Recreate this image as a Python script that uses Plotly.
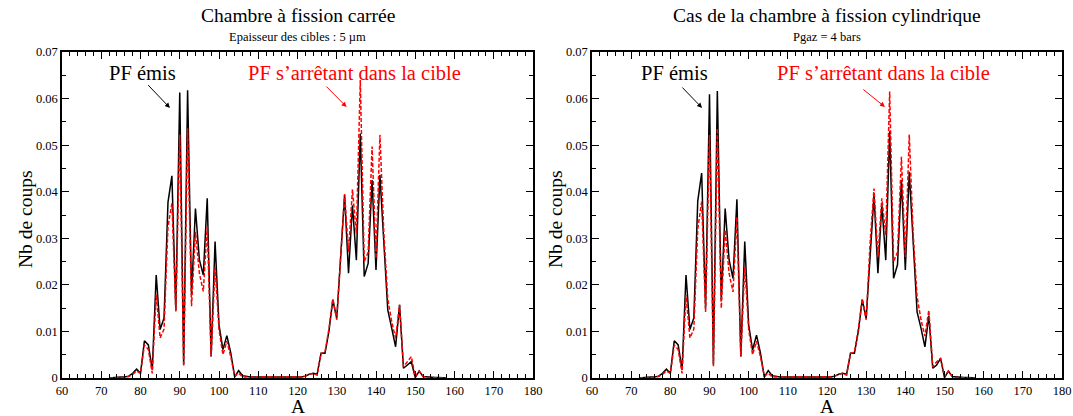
'''
    Two panels: fission fragment mass distributions (emitted vs stopped in target).
'''

import plotly.graph_objects as go

# Mass number A (one point per integer value)
a_values = list(range(72, 159))

# Left panel : chambre a fission carree
emis_carree = [
    0, 0.0001, 0.0001, 0.0002, 0.0002,            # 72-76
    0.0004, 0.0010, 0.0019, 0.0010, 0.0080,       # 77-81
    0.0071, 0.0018, 0.0221, 0.0104, 0.0129,       # 82-86
    0.0377, 0.0434, 0.0145, 0.0613, 0.0029,       # 87-91
    0.0618, 0.0179, 0.0364, 0.0254, 0.0221,       # 92-96
    0.0386, 0.0046, 0.0293, 0.0114, 0.0061,       # 97-101
    0.0091, 0.0054, 0.0002, 0.0016, 0.0005,       # 102-106
    0.0003, 0.0002, 0.0002, 0.0002, 0.0002,       # 107-111
    0.0002, 0.0002, 0.0002, 0.0002, 0.0002,       # 112-116
    0.0002, 0.0002, 0.0002, 0.0002, 0.0002,       # 117-121
    0.0004, 0.0008, 0.0010, 0.0008, 0.0053,       # 122-126
    0.0053, 0.0100, 0.0168, 0.0128, 0.0257,       # 127-131
    0.0393, 0.0225, 0.0371, 0.0253, 0.0525,       # 132-136
    0.0218, 0.0246, 0.0425, 0.0232, 0.0436,       # 137-141
    0.0286, 0.0146, 0.0107, 0.0067, 0.0157,       # 142-146
    0.0021, 0.0028, 0.0035, 0.0001, 0.0015,       # 147-151
    0.0003, 0.0002, 0.0001, 0.0001, 0.0001,       # 152-156
    0, 0,                                         # 157-158
]
arret_carree = [
    0, 0.0001, 0.0001, 0.0001, 0.0002,
    0.0003, 0.0008, 0.0015, 0.0010, 0.0071,
    0.0061, 0.0010, 0.0180, 0.0086, 0.0105,
    0.0325, 0.0375, 0.0143, 0.0523, 0.0025,
    0.0536, 0.0154, 0.0314, 0.0225, 0.0186,
    0.0325, 0.0046, 0.0239, 0.0104, 0.0050,
    0.0079, 0.0046, 0.0004, 0.0010, 0.0002,
    0.0002, 0.0002, 0.0002, 0.0002, 0.0002,
    0.0002, 0.0002, 0.0002, 0.0002, 0.0002,
    0.0002, 0.0002, 0.0002, 0.0002, 0.0002,
    0.0004, 0.0008, 0.0010, 0.0006, 0.0053,
    0.0055, 0.0105, 0.0170, 0.0125, 0.0270,
    0.0395, 0.0270, 0.0405, 0.0310, 0.0640,
    0.0250, 0.0270, 0.0497, 0.0257, 0.0522,
    0.0310, 0.0170, 0.0121, 0.0085, 0.0157,
    0.0024, 0.0035, 0.0046, 0.0003, 0.0015,
    0.0003, 0.0001, 0.0001, 0.0001, 0.0001,
    0, 0,
]

# Right panel : chambre a fission cylindrique
emis_cyl = [
    0, 0.0001, 0.0001, 0.0002, 0.0002,
    0.0004, 0.0010, 0.0019, 0.0010, 0.0080,
    0.0071, 0.0018, 0.0221, 0.0104, 0.0129,
    0.0380, 0.0440, 0.0150, 0.0609, 0.0029,
    0.0616, 0.0167, 0.0364, 0.0254, 0.0214,
    0.0384, 0.0046, 0.0293, 0.0114, 0.0060,
    0.0092, 0.0054, 0.0002, 0.0016, 0.0005,
    0.0003, 0.0002, 0.0002, 0.0002, 0.0002,
    0.0002, 0.0002, 0.0002, 0.0002, 0.0002,
    0.0002, 0.0002, 0.0002, 0.0002, 0.0002,
    0.0004, 0.0008, 0.0010, 0.0008, 0.0053,
    0.0053, 0.0100, 0.0168, 0.0128, 0.0257,
    0.0393, 0.0225, 0.0373, 0.0253, 0.0530,
    0.0214, 0.0243, 0.0425, 0.0232, 0.0443,
    0.0286, 0.0142, 0.0107, 0.0067, 0.0134,
    0.0021, 0.0028, 0.0042, 0.0001, 0.0015,
    0.0003, 0.0002, 0.0001, 0.0001, 0.0001,
    0, 0,
]
arret_cyl = [
    0, 0.0001, 0.0001, 0.0001, 0.0002,
    0.0003, 0.0008, 0.0015, 0.0010, 0.0071,
    0.0061, 0.0010, 0.0178, 0.0086, 0.0105,
    0.0320, 0.0379, 0.0142, 0.0522, 0.0025,
    0.0536, 0.0150, 0.0318, 0.0225, 0.0185,
    0.0346, 0.0046, 0.0239, 0.0104, 0.0050,
    0.0079, 0.0046, 0.0004, 0.0010, 0.0002,
    0.0002, 0.0002, 0.0002, 0.0002, 0.0002,
    0.0002, 0.0002, 0.0002, 0.0002, 0.0002,
    0.0002, 0.0002, 0.0002, 0.0002, 0.0002,
    0.0004, 0.0008, 0.0010, 0.0006, 0.0053,
    0.0055, 0.0105, 0.0170, 0.0125, 0.0290,
    0.0407, 0.0260, 0.0386, 0.0307, 0.0615,
    0.0250, 0.0270, 0.0475, 0.0260, 0.0523,
    0.0310, 0.0175, 0.0125, 0.0090, 0.0146,
    0.0024, 0.0035, 0.0042, 0.0003, 0.0015,
    0.0003, 0.0001, 0.0001, 0.0001, 0.0001,
    0, 0,
]

titles = ['Chambre à fission carrée', 'Cas de la chambre à fission cylindrique']
subtitles = ['Epaisseur des cibles : 5 µm', 'Pgaz = 4 bars']
label_emis = 'PF émis'
label_arret = 'PF s’arrêtant dans la cible'

FONT = 'Liberation Serif'
W, H = 1073, 416

fig = go.Figure()

panels = [
    ('x', 'y', emis_carree, arret_carree),
    ('x2', 'y2', emis_cyl, arret_cyl),
]
for xa, ya, emis, arret in panels:
    fig.add_trace(go.Scatter(x=a_values, y=emis, mode='lines', xaxis=xa, yaxis=ya,
                             line=dict(color='black', width=1.5), showlegend=False))
    fig.add_trace(go.Scatter(x=a_values, y=arret, mode='lines', xaxis=xa, yaxis=ya,
                             line=dict(color='red', width=1.5, dash='4px,2px'),
                             showlegend=False))

axis_common = dict(
    showline=True, linecolor='black', linewidth=1.5, mirror='allticks',
    ticks='inside', ticklen=7, tickwidth=1, tickcolor='black',
    showgrid=False, zeroline=False, automargin=False,
    tickfont=dict(family=FONT, size=12.5, color='black'),
)
x_common = dict(axis_common, range=[60, 180], dtick=10, tick0=60,
                minor=dict(dtick=2, ticks='inside', ticklen=4, tickcolor='black'))
y_common = dict(axis_common, range=[0, 0.07], dtick=0.01, tick0=0,
                minor=dict(dtick=0.005, ticks='inside', ticklen=4, tickcolor='black'))

left_dom = [62 / W, 533 / W]
right_dom = [592 / W, 1062 / W]
y_dom = [(H - 378) / H, (H - 52) / H]

fig.update_layout(
    width=W, height=H,
    margin=dict(l=0, r=0, t=0, b=0, pad=0),
    paper_bgcolor='white', plot_bgcolor='white',
    xaxis=dict(x_common, domain=left_dom, anchor='y'),
    yaxis=dict(y_common, domain=y_dom, anchor='x'),
    xaxis2=dict(x_common, domain=right_dom, anchor='y2'),
    yaxis2=dict(y_common, domain=y_dom, anchor='x2'),
)


def paper_text(x, y, text, size, angle=0):
    return dict(xref='paper', yref='paper', x=x / W, y=(H - y) / H,
                xanchor='center', yanchor='middle', text=text, textangle=angle,
                showarrow=False, font=dict(family=FONT, size=size, color='black'))


annotations = []
centers = [(62 + 533) / 2, (592 + 1062) / 2]
ytitle_x = [25, 555]
for i in range(2):
    annotations.append(paper_text(centers[i], 16, titles[i], 19.5))
    annotations.append(paper_text(centers[i], 37, subtitles[i], 12.5))
    annotations.append(paper_text(centers[i], 406, 'A', 19.5))
    annotations.append(paper_text(ytitle_x[i], 220, 'Nb de coups', 19.5, -90))

# curve labels and arrows (positions in data coordinates)
label_pos = [
    ('x', 'y', 80.6, 134.6, (87.5, 0.058, 81.6, 0.0632), (132.5, 0.0582, 127.0, 0.0629)),
    ('x2', 'y2', 81.0, 134.5, (88.1, 0.058, 82.7, 0.0627), (134.8, 0.0582, 128.9, 0.0622)),
]
for xa, ya, xe, xr, arr_e, arr_r in label_pos:
    annotations.append(dict(xref=xa, yref=ya, x=xe, y=0.0655, text=label_emis,
                            xanchor='center', yanchor='middle', showarrow=False,
                            font=dict(family=FONT, size=20.5, color='black')))
    annotations.append(dict(xref=xa, yref=ya, x=xr, y=0.0655, text=label_arret,
                            xanchor='center', yanchor='middle', showarrow=False,
                            font=dict(family=FONT, size=20.5, color='red')))
    for (hx, hy, tx, ty), col in [(arr_e, 'black'), (arr_r, 'red')]:
        annotations.append(dict(xref=xa, yref=ya, axref=xa, ayref=ya,
                                x=hx, y=hy, ax=tx, ay=ty, text='',
                                showarrow=True, arrowhead=2, arrowsize=1,
                                arrowwidth=1, arrowcolor=col))

fig.update_layout(annotations=annotations)

# the page body has a default 8px margin; drop it so the figure fills the window
fig.write_html('out.html', config={'displayModeBar': False},
               post_script="document.body.style.margin = '0';")
